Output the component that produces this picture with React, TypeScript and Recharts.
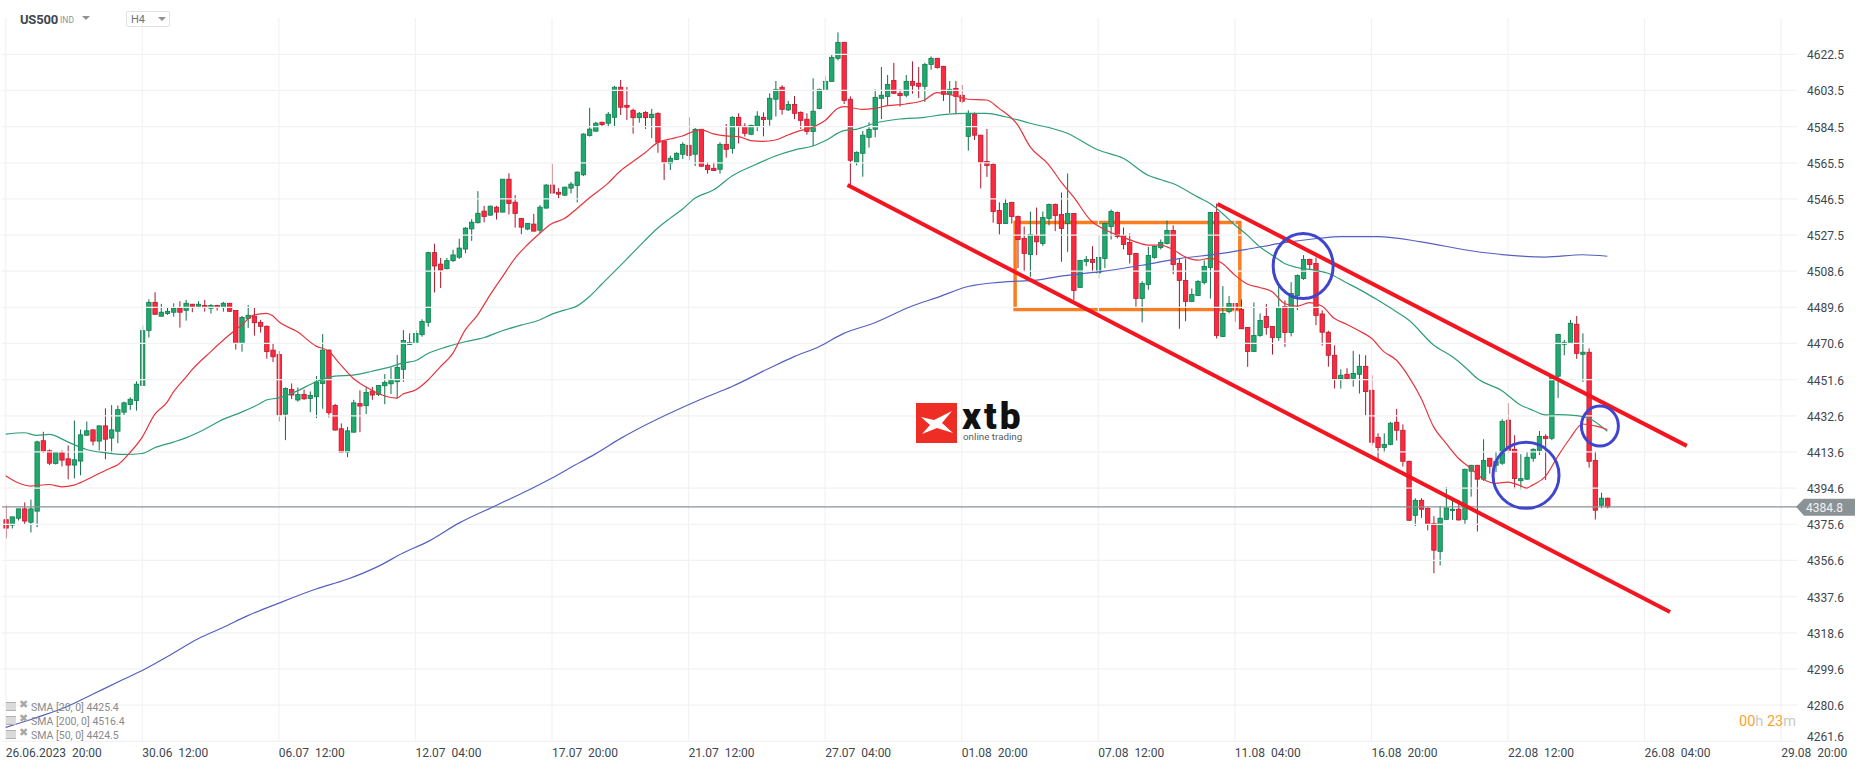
import React from "react";
import {
  Bar,
  ComposedChart,
  Line,
  ReferenceArea,
  ReferenceDot,
  ReferenceLine,
  XAxis,
  YAxis,
} from "recharts";

// open, high, low, close of each H4 bar
const candles: number[][] = [
  [4378, 4385.5, 4368.2, 4373.6], [4375.2, 4379.5, 4373.4, 4379.5], [4378.8, 4383.7, 4377.6, 4383.7], [4383.7, 4387.1, 4375.5, 4377.3],
  [4376.7, 4388.6, 4371.3, 4383.7], [4382.5, 4419.5, 4374.1, 4418.9], [4419.5, 4424.2, 4413, 4414], [4414.2, 4414.9, 4406.7, 4407.7],
  [4407.6, 4413.4, 4407, 4413.2], [4413.2, 4414.4, 4406, 4409.3], [4410, 4417, 4399.2, 4406.7], [4406.7, 4430.1, 4399.7, 4409.5],
  [4408.8, 4425.4, 4401.3, 4422.6], [4422.4, 4429.6, 4422.2, 4424.7], [4425.2, 4425.4, 4417, 4419.3], [4419.3, 4427.5, 4414.4, 4427.3],
  [4427.3, 4436.5, 4409.7, 4420.3], [4420.9, 4438.2, 4412.8, 4425.2], [4424.5, 4438, 4418.2, 4435.8], [4434.5, 4440, 4433, 4439.4],
  [4438.5, 4442.3, 4435.7, 4441.3], [4440.6, 4450.7, 4435.3, 4449.2], [4448.6, 4480.1, 4448.6, 4477.3], [4477.5, 4493.8, 4473.7, 4492.2],
  [4492.2, 4497.5, 4485.9, 4485.9], [4484.9, 4491.4, 4484.9, 4487], [4486.3, 4489.6, 4485.6, 4487.5], [4487, 4491.7, 4484.7, 4489.1],
  [4489.1, 4492.8, 4478.9, 4487], [4488, 4493.5, 4482.6, 4491.7], [4491.2, 4491.4, 4487, 4490.1], [4490.1, 4492.8, 4489.1, 4491.2],
  [4490.6, 4493.5, 4487.3, 4489.6], [4489.1, 4491.2, 4486.3, 4490.6], [4490.6, 4490.9, 4487.9, 4489.6], [4489.6, 4492.4, 4487.3, 4491.7],
  [4491.7, 4491.9, 4487.3, 4487.5], [4487.9, 4487.9, 4467.4, 4470.7], [4470.7, 4485, 4466.3, 4484.3], [4483.8, 4490.8, 4478.8, 4485.4],
  [4484.9, 4489.6, 4474.7, 4481.5], [4481.7, 4483, 4476.3, 4479.6], [4479.6, 4480.1, 4462.6, 4466.3], [4467.1, 4470.3, 4460.8, 4463.6],
  [4464.8, 4466.6, 4429.6, 4433], [4433.5, 4447.5, 4419.8, 4447], [4446.4, 4449.6, 4441.4, 4443.5], [4440.9, 4447.5, 4440, 4443.8],
  [4443.8, 4446.4, 4441, 4441.5], [4441.7, 4445.4, 4434.5, 4443.3], [4442.6, 4453.4, 4431.4, 4450.3], [4449.6, 4475.5, 4436.3, 4467.1],
  [4467.1, 4467.5, 4431.7, 4434.2], [4438, 4438.9, 4424.9, 4425.1], [4425.8, 4428.6, 4413.2, 4413.5], [4413.5, 4426.8, 4410.9, 4424.7],
  [4424, 4441, 4423.8, 4439.4], [4439, 4446, 4424, 4437.7], [4437.9, 4447.8, 4433.5, 4444.9], [4445.6, 4447.8, 4441, 4443.5],
  [4443.8, 4448.7, 4443, 4448.5], [4448.4, 4454.5, 4438.7, 4450.1], [4449.4, 4458, 4444, 4451.2], [4450.5, 4464.5, 4441.7, 4458],
  [4457, 4477.6, 4450.5, 4472.2], [4470, 4475.9, 4470, 4471.1], [4470.6, 4477.6, 4470.6, 4475.9], [4475.2, 4483.3, 4474.1, 4482.2],
  [4481.7, 4518.8, 4479.4, 4518.3], [4518.3, 4523, 4497.4, 4511.3], [4512.3, 4515.5, 4499.7, 4509.2], [4509.9, 4515.5, 4509.5, 4514.1],
  [4514.1, 4519.8, 4513.4, 4517.1], [4515.9, 4525.6, 4515, 4520.7], [4520.2, 4531.7, 4518, 4531.2], [4530.8, 4535.9, 4524.5, 4534.3],
  [4534, 4550.6, 4533.7, 4539], [4540.1, 4542.9, 4534.2, 4537.3], [4538, 4543, 4537.7, 4542.7], [4542.2, 4542.9, 4535.7, 4539.6],
  [4539.6, 4557, 4539.5, 4556.9], [4556.9, 4560, 4538.4, 4544.1], [4544.8, 4548.5, 4531.5, 4538.9], [4536.3, 4536.5, 4527.9, 4531.7],
  [4530.7, 4533.8, 4530.1, 4533.6], [4533.3, 4538.7, 4529.5, 4529.6], [4530.1, 4543.3, 4528.6, 4542.2], [4541.7, 4554.3, 4541.5, 4553.8],
  [4553.8, 4565, 4549.4, 4549.6], [4550, 4552.2, 4546.8, 4549], [4548.5, 4553, 4548, 4552.7], [4552.2, 4555.5, 4549.4, 4554.3],
  [4553.6, 4561, 4544.7, 4560.6], [4559.2, 4581, 4558.5, 4580.6], [4579.9, 4594.4, 4579.3, 4583.2], [4582.1, 4587, 4582, 4586.3],
  [4586.8, 4587.1, 4584.5, 4585.6], [4586.3, 4592.2, 4584.2, 4591], [4589.4, 4605.9, 4584.2, 4605.2], [4605.2, 4609, 4590.6, 4594.7],
  [4595.7, 4605.3, 4588, 4594.7], [4593.1, 4594, 4580.8, 4589.2], [4589.2, 4592.2, 4586.6, 4591.5], [4592, 4592.6, 4583.3, 4589.2],
  [4589.2, 4593.8, 4578.5, 4591], [4591.5, 4592, 4570.8, 4576.3], [4576.8, 4577.2, 4556.5, 4565.8], [4565.2, 4569.3, 4561.7, 4567.9],
  [4567.3, 4571, 4567, 4570.5], [4570, 4576.3, 4567.5, 4575.2], [4574.7, 4589.4, 4566.8, 4569.4], [4570, 4583.8, 4563.8, 4583.1],
  [4583.1, 4583.3, 4563.5, 4563.7], [4564.2, 4565.8, 4559.8, 4561.9], [4562.6, 4565.8, 4561.2, 4561.4], [4562.1, 4576.3, 4559.8, 4575.2],
  [4575.2, 4585.9, 4568.2, 4572.6], [4573.1, 4589.9, 4570.3, 4589.4], [4589.4, 4591.5, 4575.6, 4584.7], [4584.7, 4586.3, 4579.3, 4581],
  [4580.5, 4585.5, 4580, 4585.2], [4584.7, 4592.6, 4582.2, 4590], [4589.4, 4592, 4579.4, 4588.2], [4588.4, 4602, 4585, 4599.4],
  [4598.9, 4608.5, 4589.8, 4604.1], [4605.2, 4606.2, 4590.8, 4593.6], [4593.3, 4598, 4592.7, 4596.2], [4596.2, 4600.6, 4588.4, 4591.5],
  [4592, 4592.5, 4583.3, 4587.8], [4588.4, 4591.5, 4580.3, 4582], [4582, 4609.9, 4574.2, 4592.6], [4594.1, 4604.5, 4593.6, 4604.1],
  [4603.6, 4611.1, 4603.4, 4608.3], [4608.3, 4622.1, 4608, 4620.9], [4620.4, 4634, 4619.3, 4628.8], [4628.8, 4629, 4596.4, 4598.3],
  [4598.9, 4600.4, 4553.7, 4566.8], [4565.8, 4571.5, 4564.2, 4571], [4570.5, 4582.2, 4558.2, 4580], [4578.9, 4586.8, 4573.5, 4583.1],
  [4583.1, 4604.1, 4578.9, 4599.9], [4599.4, 4615.8, 4588.5, 4601], [4600.4, 4611.6, 4595.4, 4606.7], [4608.8, 4618, 4601.8, 4602],
  [4602, 4604.1, 4595, 4600.8], [4601, 4611.6, 4599.9, 4608.3], [4608.3, 4618.8, 4601.8, 4606.2], [4607.3, 4615.8, 4599.6, 4605.7],
  [4605.7, 4618, 4597.5, 4617.2], [4617.2, 4621.4, 4614.4, 4620.4], [4620.4, 4620.6, 4615, 4615.5], [4616.2, 4616.4, 4598, 4601.5],
  [4601.5, 4608.5, 4591.7, 4604.1], [4604.6, 4608.5, 4591, 4600.4], [4601, 4606.4, 4596.8, 4597.8], [4579.4, 4593.1, 4571.9, 4591.5],
  [4591, 4592, 4577.5, 4580], [4580, 4580.2, 4552, 4565.8], [4566.2, 4583.3, 4558.1, 4564.1], [4564.6, 4565.5, 4534, 4539.9],
  [4540.5, 4544.7, 4527.7, 4533.6], [4533.6, 4546.8, 4533.4, 4544.1], [4544.7, 4545, 4533.6, 4537.3], [4537.3, 4537.8, 4510.2, 4525.2],
  [4525.8, 4532, 4508.2, 4517.9], [4517.3, 4539.9, 4505.6, 4527.9], [4527.3, 4542, 4517, 4524], [4523.1, 4539.9, 4521.9, 4536.8],
  [4536.3, 4544.1, 4532.6, 4543.6], [4543.6, 4544.1, 4529.6, 4537.8], [4538.3, 4549.9, 4513.5, 4531], [4533.6, 4559.9, 4518.7, 4538.9],
  [4538.9, 4539, 4493.4, 4498.4], [4500, 4514.5, 4499.8, 4514.2], [4513.7, 4516.5, 4511.2, 4514.7], [4514.7, 4521.7, 4508.2, 4513.1],
  [4507.7, 4527.5, 4504.7, 4515.8], [4515.2, 4534, 4510.2, 4533.6], [4532, 4541, 4525.2, 4539.9], [4539.4, 4539.9, 4525.8, 4526.8],
  [4527.3, 4531.5, 4520, 4522.6], [4523.7, 4528.4, 4512.6, 4517.3], [4517.9, 4518, 4489.9, 4494.2], [4494.2, 4503.3, 4481.6, 4502.1],
  [4501.6, 4521.4, 4498.8, 4516.8], [4515.8, 4522, 4515.1, 4521.6], [4521, 4525.2, 4520, 4523.7], [4523.1, 4535.2, 4522.6, 4530],
  [4530, 4532.6, 4507, 4512.1], [4512.6, 4515, 4478.3, 4503.7], [4503.7, 4515.2, 4482.3, 4492.7], [4492.7, 4499.5, 4492.5, 4496.3],
  [4495.8, 4503.9, 4495.5, 4503.1], [4502.6, 4514.2, 4501.6, 4511.1], [4510.5, 4539.6, 4494.2, 4539.4], [4539.4, 4544.1, 4473.2, 4474.8],
  [4474.3, 4500.7, 4474, 4486.4], [4487.4, 4495.5, 4486.4, 4491.6], [4491.6, 4491.8, 4482, 4488.5], [4488.5, 4493.7, 4478.2, 4478.3],
  [4479, 4479.2, 4458.3, 4466.4], [4466.4, 4492.1, 4466.2, 4474.8], [4474.8, 4486.4, 4474.1, 4482.7], [4484.8, 4491.3, 4475.2, 4479],
  [4479.5, 4479.7, 4464.8, 4473.7], [4473.7, 4500.7, 4472, 4489.5], [4490, 4493.2, 4468.8, 4476.4], [4476.4, 4502.8, 4474.3, 4496.9],
  [4495.8, 4506.8, 4488.1, 4506.3], [4504.7, 4517, 4504, 4514.7], [4514.7, 4515.2, 4509.5, 4512.1], [4512.6, 4515.8, 4480.2, 4485.3],
  [4486.1, 4488, 4469.5, 4476.5], [4476.5, 4477.3, 4458.4, 4464.4], [4464.4, 4469.6, 4446.9, 4451.8], [4452.1, 4457, 4446.9, 4453.9],
  [4454.4, 4457.6, 4451.4, 4452.1], [4452.3, 4466.7, 4447.9, 4454.9], [4454.4, 4464.9, 4444.3, 4458.6], [4458.6, 4464.4, 4432.7, 4445.3],
  [4446, 4453.9, 4416.9, 4418.7], [4421.3, 4423.4, 4409.4, 4416], [4416, 4423.4, 4413.3, 4417.6], [4417.6, 4429.4, 4417.1, 4428.7],
  [4429.2, 4436.2, 4419.6, 4425], [4425, 4428.1, 4405.9, 4408.7], [4408.7, 4409, 4377.5, 4377.7], [4380.3, 4389.3, 4374.7, 4388.2],
  [4388.2, 4389.3, 4379, 4383.5], [4384, 4384.5, 4372.4, 4375.6], [4376.1, 4379.8, 4349.9, 4362], [4361.4, 4385.2, 4354, 4378.8],
  [4378.2, 4395.2, 4378, 4384.2], [4382.9, 4388.4, 4377.9, 4383.5], [4383.5, 4388.4, 4377.5, 4377.9], [4378.2, 4404.8, 4375.6, 4404.5],
  [4403.5, 4406.8, 4390.1, 4406.6], [4406.6, 4406.8, 4371.8, 4399.3], [4399.3, 4420.3, 4398.4, 4409.2], [4410.3, 4410.5, 4402.2, 4406.1],
  [4406.6, 4414, 4403, 4408.7], [4407.7, 4430.8, 4406.8, 4429.7], [4430.3, 4439.2, 4413, 4414.5], [4415, 4422.4, 4394.2, 4399.6],
  [4398.5, 4412.4, 4394, 4399.6], [4399.3, 4413.8, 4399, 4410.8], [4410.3, 4415.5, 4408.5, 4415], [4414.5, 4424.6, 4412, 4421.8],
  [4421.8, 4422.9, 4398.9, 4420.6], [4420.8, 4453.5, 4419.8, 4452.8], [4453.4, 4475.6, 4442, 4475.4], [4470.2, 4472.5, 4464.4, 4471.2],
  [4470.7, 4483, 4470.5, 4481.2], [4480.7, 4485, 4462.5, 4465.4], [4464.9, 4475.9, 4450.4, 4466], [4466, 4468, 4405.4, 4408.7],
  [4409.2, 4414, 4378.1, 4383], [4385.6, 4392.2, 4384, 4389.3], [4389.3, 4389.6, 4384, 4384.8],
];

// moving averages read at sampled bars: [bar index, value]
const sma20: number[][] = [
  [0, 4401.1], [2, 4397.4], [4, 4395.7], [7, 4396.5], [9, 4395.3], [11, 4396.2], [14, 4400.6], [17, 4405.3], [18, 4406.7],
  [20, 4413.2], [22, 4421.4], [24, 4433.3], [26, 4439.8], [27, 4445], [29, 4452.8], [30, 4456.7], [33, 4466.2], [36, 4475],
  [38, 4480.3], [40, 4485.6], [42, 4486.4], [43, 4485.1], [44, 4482], [47, 4476.7], [50, 4469.2], [52, 4466.6], [54, 4459.2],
  [56, 4452.2], [58, 4447.8], [60, 4444.3], [63, 4441.9], [64, 4444], [66, 4446.1], [68, 4451.3], [70, 4458.3], [72, 4465.3],
  [74, 4477.6], [76, 4485.5], [78, 4496], [80, 4505.6], [82, 4515.2], [84, 4522.3], [86, 4528.4], [88, 4533.6], [90, 4536.2],
  [92, 4541.4], [94, 4547], [97, 4554.7], [99, 4561.2], [101, 4566.1], [103, 4570.8], [105, 4576.1], [107, 4578], [109, 4579.6],
  [111, 4582.2], [112, 4582.8], [114, 4580.7], [116, 4579.6], [118, 4579.3], [120, 4577.2], [122, 4576.8], [124, 4577.5],
  [126, 4580.1], [128, 4582.4], [130, 4584.2], [132, 4587.7], [134, 4594], [135, 4595], [138, 4593.6], [140, 4594.1], [142, 4595.5],
  [145, 4596.4], [148, 4598.5], [150, 4602.4], [153, 4600.6], [155, 4598.9], [158, 4598.5], [160, 4594.1], [163, 4585.4], [165, 4574],
  [168, 4564.6], [170, 4555.5], [172, 4547.6], [175, 4534.5], [177, 4530.5], [180, 4526.3], [182, 4524], [184, 4522.3], [186, 4522.3],
  [188, 4520], [190, 4516.1], [192, 4514.4], [194, 4515.3], [196, 4512.6], [198, 4506.5], [200, 4501.8], [202, 4500], [204, 4497.8],
  [206, 4491.6], [208, 4490.2], [210, 4492], [212, 4490.3], [214, 4483.8], [216, 4480.7], [218, 4477.3], [220, 4473.3], [222, 4466.3],
  [224, 4461.9], [226, 4453.2], [228, 4441.8], [230, 4426.9], [232, 4418.2], [234, 4410.3], [236, 4405], [238, 4399.4], [240, 4397.1],
  [242, 4397.8], [244, 4395.9], [245, 4394.6], [246, 4396.3], [248, 4400.6], [250, 4411.2], [252, 4420.8], [254, 4428.3], [256, 4427.3], [258, 4425.4],
];

const sma50: number[][] = [
  [0, 4423], [3, 4423.7], [5, 4422.3], [7, 4422.8], [10, 4418.9], [13, 4414.9], [16, 4413.2], [19, 4412.3], [22, 4412.8], [24, 4415.8],
  [27, 4418.8], [29, 4421], [32, 4425.4], [35, 4430.7], [38, 4434.5], [41, 4439.1], [42, 4440.9], [44, 4442], [47, 4445.7], [50, 4450.5],
  [53, 4453.4], [56, 4454], [59, 4456], [62, 4458.3], [64, 4460.4], [66, 4461.5], [68, 4465.3], [71, 4468.8], [74, 4471.5], [77, 4473.6],
  [80, 4477.3], [83, 4480.2], [86, 4482.9], [88, 4486], [90, 4488.1], [92, 4490.2], [94, 4495.1], [96, 4501.7], [100, 4514.8], [102, 4521.5],
  [105, 4531.1], [107, 4536.3], [109, 4541.1], [111, 4546.9], [114, 4551.2], [117, 4558.6], [121, 4564.9], [124, 4569.1], [127, 4572.2],
  [130, 4574.3], [132, 4577.1], [135, 4582.4], [137, 4583.1], [140, 4586.3], [144, 4588.5], [148, 4589.4], [151, 4590.8], [155, 4591.5],
  [158, 4591.5], [161, 4589.7], [165, 4586.3], [171, 4581], [176, 4572.2], [180, 4567.9], [184, 4559], [186, 4556.7], [188, 4554.6],
  [192, 4547.6], [194, 4544.1], [196, 4538.9], [198, 4532.8], [200, 4527.5], [202, 4521.4], [204, 4517], [206, 4512.6], [208, 4510.5],
  [211, 4509], [213, 4507.5], [216, 4502.5], [219, 4497.3], [221, 4493.4], [224, 4487.3], [226, 4482.9], [230, 4469.8], [233, 4463.7],
  [235, 4458.4], [237, 4452.3], [241, 4445.8], [244, 4438.3], [246, 4435.5], [248, 4433.1], [250, 4433.2], [253, 4432.7], [255, 4431.3], [258, 4424.5],
];

const sma200: number[][] = [
  [0, 4268.9], [5, 4274.1], [10, 4280], [14, 4286.3], [19, 4294.2], [22, 4298.8], [26, 4306], [31, 4315.5], [35, 4321.4], [39, 4327.6],
  [44, 4334.2], [50, 4341.6], [55, 4346.7], [60, 4353.5], [64, 4360.5], [68, 4366.5], [73, 4376.2], [79, 4385.5], [84, 4393.2], [88, 4399.9],
  [91, 4405.4], [95, 4412.6], [99, 4420.6], [112, 4441.3], [117, 4448], [123, 4457.6], [127, 4463.7], [131, 4468.9], [135, 4475.9], [140, 4481.5],
  [146, 4490.3], [150, 4494.7], [155, 4500.5], [161, 4503], [166, 4503.9], [170, 4506], [176, 4508.2], [183, 4511.7], [189, 4515.2],
  [195, 4517.5], [200, 4520.1], [205, 4523], [212, 4526], [215, 4526.7], [221, 4526.7], [228, 4524], [236, 4519.3], [242, 4517], [248, 4516],
  [254, 4517.2], [258, 4516.4],
];

const xTicks = [0, 22, 44, 66, 88, 110, 132, 154, 176, 198, 220, 242, 264, 286];
const xLabels = [
  "26.06.2023  20:00", "30.06  12:00", "06.07  12:00", "12.07  04:00", "17.07  20:00", "21.07  12:00", "27.07  04:00",
  "01.08  20:00", "07.08  12:00", "11.08  04:00", "16.08  20:00", "22.08  12:00", "26.08  04:00", "29.08  20:00",
];
const yTicks = [
  4622.5, 4603.5, 4584.5, 4565.5, 4546.5, 4527.5, 4508.6, 4489.6, 4470.6, 4451.6, 4432.6, 4413.6, 4394.6, 4375.6, 4356.6, 4337.6, 4318.6,
  4299.6, 4280.6, 4261.6,
];
const lastPrice = 4384.8;

// drawn channel, box and circles, in bar index / price
const lowerChannel = [[135.6, 4553.8], [268.1, 4329.5]];
const upperChannel = [[195.2, 4543.9], [270.8, 4416.8]];
const box = { x1: 162.6, x2: 198.8, y1: 4488.5, y2: 4534.2 };
const circles = [
  { i: 209, v: 4511.3, rx: 30, ry: 32.5 },
  { i: 244.9, v: 4401.3, rx: 33, ry: 33 },
  { i: 256.8, v: 4427.2, rx: 18.5, ry: 20 },
];
const legendRows = ["SMA [20, 0] 4425.4", "SMA [200, 0] 4516.4", "SMA [50, 0] 4424.5"];

const pick = (list: number[][], i: number) => list.find((p) => p[0] === i)?.[1] ?? null;

const rows = candles.map(([open, high, low, close], i) => ({
  i,
  open,
  high,
  low,
  close,
  range: [low, high],
  sma20: pick(sma20, i),
  sma50: pick(sma50, i),
  sma200: pick(sma200, i),
}));

const FONT = "Roboto, sans-serif";
const TEXT = "#3d4750";
const GRID = "#f1f2f3";

function Candle(props: any) {
  const { x, y, width, height, payload } = props;
  const { open, high, low, close } = payload;
  const k = high > low ? height / (high - low) : 0;
  const up = close >= open;
  const top = y + (high - Math.max(open, close)) * k;
  const bodyH = Math.max(Math.abs(open - close) * k, 1);
  const mid = x + width / 2;
  return (
    <g>
      <line x1={mid} x2={mid} y1={y} y2={y + height} stroke={up ? "#0e6f47" : "#a9172b"} strokeWidth={1} />
      <rect
        x={mid - 2.2}
        y={top}
        width={4.4}
        height={bodyH}
        fill={up ? "#20a96f" : "#fb2a3e"}
        stroke={up ? "#0f7c4e" : "#bb1a30"}
        strokeWidth={0.8}
      />
    </g>
  );
}

function XTick({ x, y, index }: any) {
  return (
    <text x={x} y={y + 8} fontSize={12} fontFamily={FONT} fill={TEXT} textAnchor="start">
      {xLabels[index].replace(/ /g, "\u00a0")}
    </text>
  );
}

function YTick({ x, y, payload, index }: any) {
  const last = index === yTicks.length - 1;
  return (
    <text x={x + 2} y={y + (last ? 0 : 5)} fontSize={12} fontFamily={FONT} fill={TEXT} textAnchor="start">
      {payload.value.toFixed(1)}
    </text>
  );
}

function PriceTag({ viewBox }: any) {
  const r = viewBox.x + viewBox.width;
  const y = viewBox.y;
  return (
    <g>
      <polygon
        points={`${r - 1},${y} ${r + 7},${y - 8} ${r + 58},${y - 8} ${r + 58},${y + 9} ${r + 7},${y + 9}`}
        fill="#8b9296"
      />
      <text x={r + 9} y={y + 5} fontSize={12} fontFamily={FONT} fill="#eef0f1">
        {lastPrice.toFixed(1)}
      </text>
    </g>
  );
}

function Ring({ cx, cy, rx, ry }: any) {
  return <ellipse cx={cx} cy={cy} rx={rx} ry={ry} fill="none" stroke="#3f45cc" strokeWidth={3} />;
}

function Caret({ left, top }: { left: number; top: number }) {
  return (
    <div
      style={{
        position: "absolute",
        left,
        top,
        width: 0,
        height: 0,
        borderLeft: "4px solid transparent",
        borderRight: "4px solid transparent",
        borderTop: "4px solid #8c9296",
      }}
    />
  );
}

function Header() {
  return (
    <>
      <div style={{ position: "absolute", left: 20, top: 12, fontSize: 13, fontWeight: 700, color: TEXT, letterSpacing: -0.2 }}>US500</div>
      <div style={{ position: "absolute", left: 60, top: 15, fontSize: 8.5, color: "#8c9296" }}>IND</div>
      <Caret left={82} top={16} />
      <div
        style={{
          position: "absolute",
          left: 126,
          top: 11,
          width: 42,
          height: 14,
          border: "1px solid #e0e3e5",
          borderRadius: 2,
        }}
      />
      <div style={{ position: "absolute", left: 131, top: 13, fontSize: 11, color: "#6d757b" }}>H4</div>
      <Caret left={158} top={17} />
    </>
  );
}

function Logo() {
  return (
    <>
      <svg style={{ position: "absolute", left: 916, top: 403 }} width={41} height={40}>
        <rect width={41} height={40} fill="#ee2e24" />
        <polygon points="5,14 18,17 36,8 26,20 37,30 21,25 6,31 14,22" fill="#ffffff" />
      </svg>
      <div
        style={{
          position: "absolute",
          left: 962,
          top: 403,
          fontSize: 37,
          lineHeight: "27px",
          fontWeight: 900,
          letterSpacing: 3,
          color: "#111111",
        }}
      >
        xtb
      </div>
      <div style={{ position: "absolute", left: 963, top: 431, fontSize: 9.8, lineHeight: "11px", color: "#5c5c5c", whiteSpace: "pre" }}>online trading</div>
    </>
  );
}

function SmaLegend() {
  return (
    <>
      {legendRows.map((row, n) => {
        const top = 702 + n * 14.2;
        return (
          <div key={row}>
            <div style={{ position: "absolute", left: 6, top: top, width: 10, height: 7, borderTop: "1px solid #b0b0b0", borderBottom: "1px solid #b0b0b0", background: "#dadada" }} />
            <div style={{ position: "absolute", left: 19, top: top - 4, fontSize: 11, color: "#a8a8a8" }}>✖</div>
            <div style={{ position: "absolute", left: 31, top: top - 1, fontSize: 10.5, lineHeight: "13px", color: "#8a8a8a", whiteSpace: "pre" }}>{row}</div>
          </div>
        );
      })}
    </>
  );
}

function Countdown() {
  return (
    <div style={{ position: "absolute", left: 1739, top: 714, fontSize: 14.5, lineHeight: "16px", color: "#c9c9c9", whiteSpace: "pre" }}>
      <span style={{ color: "#ff9f2b" }}>00</span>h <span style={{ color: "#ff9f2b" }}>23</span>m
    </div>
  );
}

export default function App() {
  return (
    <div style={{ position: "fixed", left: 0, top: 0, width: 1866, height: 767, background: "#fff", overflow: "hidden", fontFamily: FONT }}>
      <ComposedChart width={1866} height={767} data={rows} margin={{ top: 18, right: 0, left: 2, bottom: 0 }}>
        <XAxis
          dataKey="i"
          type="number"
          domain={[-0.596, 288.55]}
          ticks={xTicks}
          interval={0}
          height={25.7}
          axisLine={false}
          tickLine={false}
          tick={<XTick />}
          allowDataOverflow
        />
        <YAxis
          orientation="right"
          type="number"
          domain={[4261.6, 4641.57]}
          ticks={yTicks}
          interval={0}
          width={69}
          axisLine={false}
          tickLine={false}
          tick={<YTick />}
          allowDataOverflow
        />
        {yTicks.map((v) => (
          <ReferenceLine key={`h${v}`} y={v} stroke={GRID} strokeWidth={1.2} />
        ))}
        {xTicks.map((i) => (
          <ReferenceLine key={`v${i}`} x={i} stroke={GRID} strokeWidth={1.2} />
        ))}
        <ReferenceLine y={lastPrice} stroke="#8b9296" strokeWidth={1.3} label={<PriceTag />} />
        <Bar dataKey="range" barSize={5} shape={<Candle />} isAnimationActive={false} />
        <Line dataKey="sma200" type="monotone" stroke="#5560c0" strokeWidth={1.2} dot={false} connectNulls isAnimationActive={false} />
        <Line dataKey="sma50" type="monotone" stroke="#2f9e77" strokeWidth={1.2} dot={false} connectNulls isAnimationActive={false} />
        <Line dataKey="sma20" type="monotone" stroke="#e5343c" strokeWidth={1.2} dot={false} connectNulls isAnimationActive={false} />
        <ReferenceLine segment={lowerChannel.map(([x, y]) => ({ x, y }))} stroke="#f3151f" strokeWidth={4} />
        <ReferenceLine segment={upperChannel.map(([x, y]) => ({ x, y }))} stroke="#f3151f" strokeWidth={4} />
        <ReferenceArea
          x1={box.x1}
          x2={box.x2}
          y1={box.y1}
          y2={box.y2}
          fill="none"
          stroke="#fa7d22"
          strokeWidth={3.5}
          fillOpacity={0}
        />
        {circles.map((c) => (
          <ReferenceDot
            key={c.i}
            x={c.i}
            y={c.v}
            r={c.rx}
            shape={(p: any) => <Ring cx={p.cx} cy={p.cy} rx={c.rx} ry={c.ry} />}
          />
        ))}
      </ComposedChart>
      <Header />
      <Logo />
      <SmaLegend />
      <Countdown />
    </div>
  );
}
